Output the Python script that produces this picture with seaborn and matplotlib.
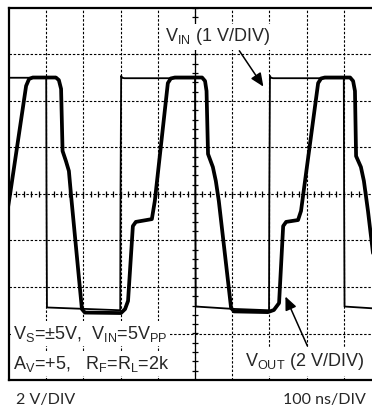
import numpy as np
import pandas as pd
import matplotlib
matplotlib.use("Agg")
import matplotlib.pyplot as plt
import seaborn as sns

# Scope settings
NS_PER_DIV = 100.0
VIN_V_PER_DIV = 1.0
VOUT_V_PER_DIV = 2.0
DIVS_X = 10
DIVS_Y = 8

# Input square wave (thin trace): time in ns, volts
vin_t = [-5, 100, 100.8, 102, 200, 299, 299.8, 301.5, 304, 310, 500, 500.8, 502, 600,
         699, 699.8, 701.5, 704, 710, 900, 900.8, 902, 1000, 1030]
vin_v = [2.50, 2.50, 0.0, -2.44, -2.47, -2.50, 0.0, 2.54, 2.50, 2.49, 2.49, 0.0, -2.42, -2.47,
         -2.50, 0.0, 2.54, 2.50, 2.49, 2.49, 0.0, -2.42, -2.47, -2.48]

# Amplifier output (thick trace): time in ns, volts
vout_t = [-38, 3, 46, 54, 64, 126, 134, 140, 144, 153, 161, 167, 196, 204,
          301, 312, 320, 333, 341, 384, 392, 427, 435, 446,
          519, 527, 531, 535, 548, 556, 564, 597, 605,
          696, 712, 726, 737, 745, 777, 785, 831, 839, 849,
          917, 925, 930, 933, 946, 954, 965, 997, 1030]
vout_v = [-4.17, 0.0, 4.65, 4.95, 5.01, 5.01, 4.90, 4.52, 1.85, 1.42, 0.99, -0.09, -4.95, -5.10,
          -5.12, -4.95, -4.60, -1.38, -1.20, -1.08, -0.30, 4.77, 4.97, 5.01,
          5.01, 4.86, 4.43, 1.72, 1.16, 0.56, -0.30, -4.90, -5.05,
          -5.08, -4.99, -4.69, -1.38, -1.20, -1.12, -0.73, 4.77, 4.97, 5.01,
          5.01, 4.86, 4.43, 1.63, 1.16, 0.56, -0.73, -5.03, -5.08]

vin = pd.DataFrame({"t": vin_t, "div": np.array(vin_v) / VIN_V_PER_DIV})
vout = pd.DataFrame({"t": vout_t, "div": np.array(vout_v) / VOUT_V_PER_DIV})

sns.set_style("white")
plt.rcParams["font.family"] = ["Liberation Sans", "DejaVu Sans"]
plt.rcParams["mathtext.fontset"] = "custom"
plt.rcParams["mathtext.rm"] = "Liberation Sans"
plt.rcParams["mathtext.it"] = "Liberation Sans"

W, H = 372, 411
fig = plt.figure(figsize=(W / 100, H / 100), dpi=100)
# screen spans 10 x 8 divisions; the right edge runs slightly past the figure
x0, x1, y0, y1 = 9, 381, 8, 380
ax = fig.add_axes([x0 / W, 1 - y1 / H, (x1 - x0) / W, (y1 - y0) / H])
ax.set_xlim(0, DIVS_X * NS_PER_DIV)
ax.set_ylim(-DIVS_Y / 2, DIVS_Y / 2)

grid_kw = dict(color="black", lw=0.8, linestyles=(0, (2.2, 1.6)), zorder=1)
ax.vlines(np.arange(1, DIVS_X) * NS_PER_DIV, -4, 4, **grid_kw)
ax.hlines(np.arange(-3, 4), 0, DIVS_X * NS_PER_DIV, **grid_kw)

# minor ticks on the centre axes
tx = np.arange(0, DIVS_X * NS_PER_DIV + 1, NS_PER_DIV / 5)
ax.vlines(tx, -0.07, 0.07, color="black", lw=0.9, zorder=1)
ty = np.arange(-4, 4.01, 0.2)
ax.hlines(ty, 500 - 8, 500 + 8, color="black", lw=0.9, zorder=1)
ax.vlines(500, -4, 4, color="black", lw=0.9, zorder=1)

sns.lineplot(data=vin, x="t", y="div", color="black", lw=1.3, sort=False,
             estimator=None, ax=ax, zorder=3)
sns.lineplot(data=vout, x="t", y="div", color="black", lw=2.7, sort=False,
             estimator=None, ax=ax, zorder=4, solid_joinstyle="round", solid_capstyle="round")

for s in ["left", "top", "bottom"]:
    ax.spines[s].set_linewidth(1.6)
    ax.spines[s].set_color("black")
ax.spines["right"].set_visible(False)
ax.set_xticks([])
ax.set_yticks([])
ax.set_xlabel("")
ax.set_ylabel("")

fs = 13
white = dict(facecolor="white", edgecolor="none", pad=2.0)
ax.text(420, 3.38, r"$\mathrm{V_{IN}}$ (1 V/DIV)", fontsize=fs, ha="left", va="center",
        zorder=6, bbox=white)
ax.annotate("", xy=(688, 2.26), xytext=(615, 3.13),
            arrowprops=dict(arrowstyle="-|>,head_length=0.8,head_width=0.35", color="black", lw=1.1),
            zorder=7)

ax.text(955, -3.6, r"$\mathrm{V_{OUT}}$ (2 V/DIV)", fontsize=fs, ha="right", va="center",
        zorder=6, bbox=dict(facecolor="white", edgecolor="none", pad=3.0))
ax.annotate("", xy=(740, -2.15), xytext=(805, -3.32),
            arrowprops=dict(arrowstyle="-|>,head_length=0.8,head_width=0.35", color="black", lw=1.1),
            zorder=7)

ax.text(12, -3.0, r"$\mathrm{V_S}$=±5V,  $\mathrm{V_{IN}}$=5$\mathrm{V_{PP}}$", fontsize=fs,
        ha="left", va="center", zorder=6, bbox=dict(facecolor="white", edgecolor="none", pad=1.5))
ax.text(12, -3.65, r"$\mathrm{A_V}$=+5,   $\mathrm{R_F}$=$\mathrm{R_L}$=2k", fontsize=fs,
        ha="left", va="center", zorder=6, bbox=dict(facecolor="white", edgecolor="none", pad=1.5))

fig.text(16 / W, 1 - 400 / H, "2 V/DIV", fontsize=11.5, family=["Lato", "DejaVu Sans"],
         ha="left", va="center")
fig.text(366 / W, 1 - 400 / H, "100 ns/DIV", fontsize=11.5, family=["Lato", "DejaVu Sans"],
         ha="right", va="center")

fig.savefig("out.png", dpi=100)
